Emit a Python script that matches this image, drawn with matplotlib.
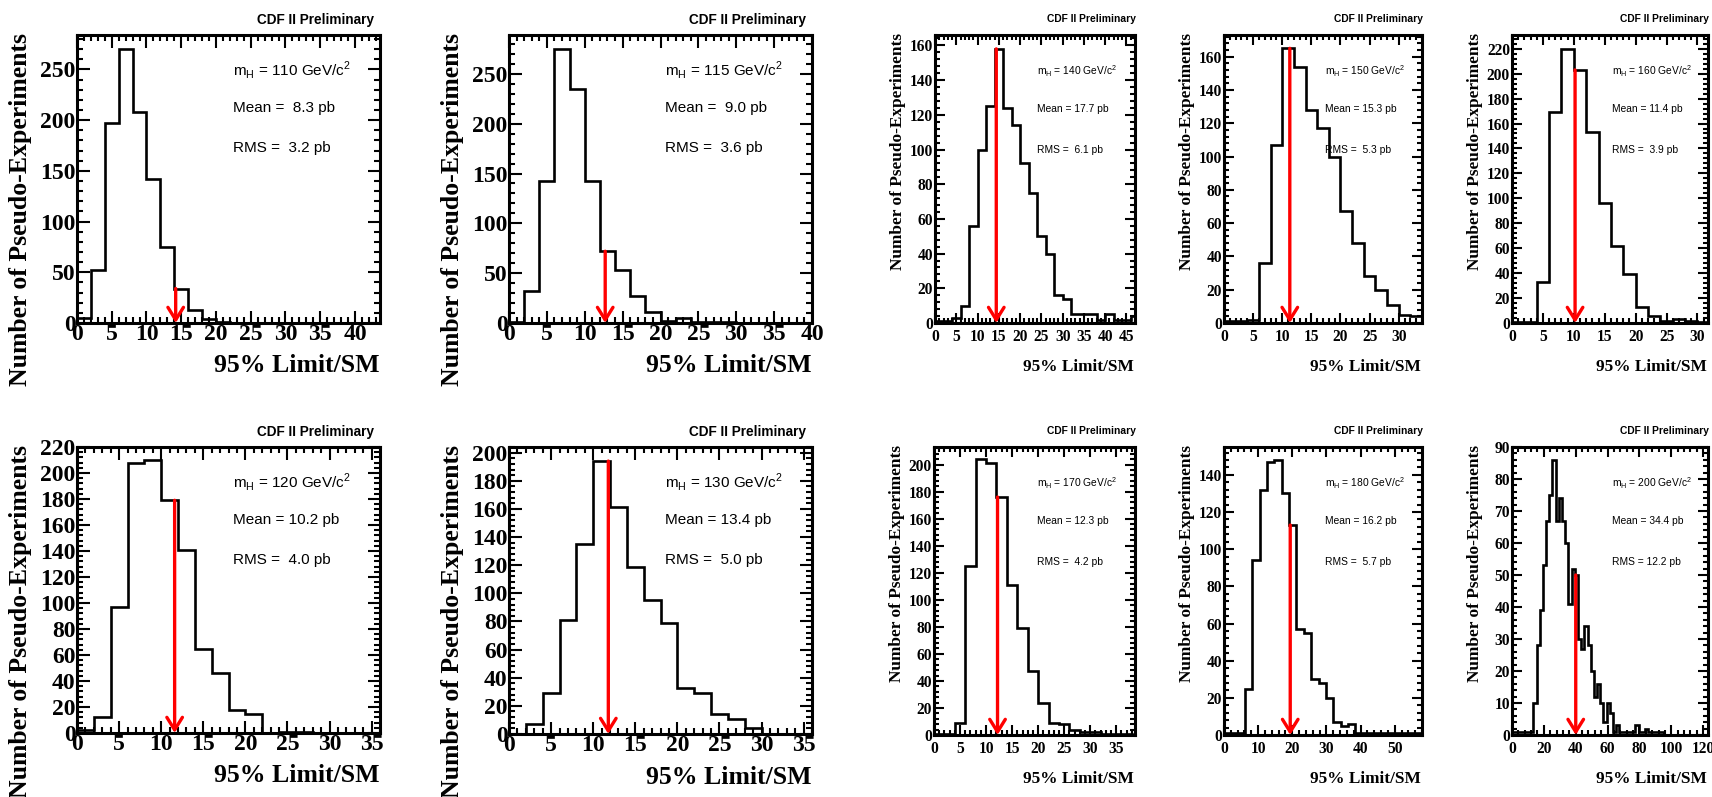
import numpy as np
import matplotlib
matplotlib.use('Agg')
import matplotlib.pyplot as plt
from matplotlib.ticker import MultipleLocator

# ------------------------------------------------------------------ data
masses = [110, 115, 140, 150, 160, 120, 130, 170, 180, 200]
mean_pb = [' 8.3', ' 9.0', '17.7', '15.3', '11.4', '10.2', '13.4', '12.3', '16.2', '34.4']
rms_pb = [' 3.2', ' 3.6', ' 6.1', ' 5.3', ' 3.9', ' 4.0', ' 5.0', ' 4.2', ' 5.7', '12.2']
observed = [14.2, 12.7, 14.4, 11.3, 10.2, 11.6, 11.8, 12.2, 19.4, 40.0]

counts_110 = [5, 52, 197, 270, 208, 142, 75, 34, 13, 4, 1, 0, 0, 0, 0, 0, 0, 0, 0, 0, 0, 0]
counts_115 = [1, 32, 142, 275, 235, 142, 72, 53, 27, 11, 2, 5, 1, 1, 1, 0, 0, 0, 0, 0]
counts_140 = [1, 1, 3, 10, 56, 100, 125, 158, 124, 114, 92, 75, 50, 40, 16, 14, 5, 5, 5, 2,
              5, 2, 2, 4]
counts_150 = [1, 1, 2, 36, 107, 165, 154, 128, 117, 100, 67, 48, 28, 20, 11, 5, 4]
counts_160 = [1, 1, 33, 169, 220, 203, 153, 96, 62, 39, 13, 6, 2, 3, 2, 1]
counts_120 = [2, 12, 97, 208, 210, 179, 141, 65, 46, 18, 15, 0, 1, 1, 0, 0, 0, 0]
counts_130 = [0, 7, 29, 81, 135, 194, 161, 119, 95, 79, 33, 29, 14, 11, 4, 0, 0, 0]
counts_170 = [1, 1, 9, 125, 204, 201, 176, 111, 79, 47, 24, 9, 8, 4, 2, 2, 1, 1, 1]
counts_180 = [1, 1, 1, 25, 94, 132, 147, 148, 130, 113, 57, 55, 30, 28, 20, 7, 5, 6,
              1, 1, 1, 1, 1, 1, 1, 1, 1, 1]
counts_200 = [1, 1, 1, 1, 1, 1, 1,
              10, 28, 39, 53, 67, 75, 86, 67, 74, 67, 60, 41, 52, 50, 30, 27, 34, 28,
              20, 12, 16, 10, 4, 10, 7, 1, 3, 1, 1, 1, 1, 1, 3, 1, 1, 2, 1, 1, 1, 1, 1]

all_counts = [counts_110, counts_115, counts_140, counts_150, counts_160,
              counts_120, counts_130, counts_170, counts_180, counts_200]
bin_start = [0, 0, 0, 0, 0, 0, 0, 0, -0.38, -0.6]
bin_width = [2, 2, 2, 2, 2, 2, 2, 2, 2.16, 2.0]
x_max = [43.6, 40, 47, 34, 31.7, 36, 36, 38.6, 58, 123]
y_max = [284, 289, 166, 173, 231, 220, 204, 213, 155, 90]
x_major = [5, 5, 5, 5, 5, 5, 5, 5, 10, 20]
y_major = [50, 50, 20, 20, 20, 20, 20, 20, 20, 10]

# ------------------------------------------------------------------ layout
W, H = 1712, 797
plt.rcParams['font.family'] = 'Liberation Serif'
plt.rcParams['font.weight'] = 'bold'

rects = [(77, 35, 380, 323), (509, 35, 812, 323), (935, 35, 1135, 323),
         (1224, 35, 1422, 323), (1512, 35, 1708, 323),
         (77, 447, 380, 733), (509, 447, 812, 734), (934, 447, 1135, 735),
         (1224, 447, 1422, 735), (1512, 447, 1708, 735)]
big_panels = (0, 1, 5, 6)

fig = plt.figure(figsize=(W / 100, H / 100), dpi=100)

for i in range(10):
    x0, y0, x1, y1 = rects[i]
    ax = fig.add_axes([x0 / W, 1 - y1 / H, (x1 - x0) / W, (y1 - y0) / H])
    big = i in big_panels
    counts = np.array(all_counts[i], dtype=float)
    edges = bin_start[i] + bin_width[i] * np.arange(len(counts) + 1)

    ax.stairs(counts, edges, color='black', linewidth=1.9, baseline=0)

    # observed-limit arrow: from the histogram height down to zero
    k = np.searchsorted(edges, observed[i]) - 1
    top = counts[k]
    ax.annotate('', xy=(observed[i], 0), xytext=(observed[i], top),
                arrowprops=dict(arrowstyle='->,head_length=0.45,head_width=0.28',
                                color='red', lw=2.4, shrinkA=0, shrinkB=0,
                                mutation_scale=20), annotation_clip=False)

    ax.set_xlim(0, x_max[i])
    ax.set_ylim(0, y_max[i])
    ax.xaxis.set_major_locator(MultipleLocator(x_major[i]))
    ax.xaxis.set_minor_locator(MultipleLocator(x_major[i] / 5))
    ax.yaxis.set_major_locator(MultipleLocator(y_major[i]))
    ax.yaxis.set_minor_locator(MultipleLocator(y_major[i] / 5))

    for sp in ax.spines.values():
        sp.set_linewidth(2.2)

    tick_fs = 17 if big else 11.2
    lab_fs = 18.5 if big else 12.4
    ax.tick_params(which='both', direction='in', top=True, right=True, width=1.5)
    ax.tick_params(which='major', length=9 if big else 7)
    ax.tick_params(which='minor', length=4.5 if big else 3.5)
    ax.tick_params(axis='x', labelsize=tick_fs, pad=1 if big else 4)
    ax.tick_params(axis='y', labelsize=tick_fs, pad=1 if big else 1.5)

    # axis titles (ROOT style, aligned to the ends of the axes)
    ax.annotate('95% Limit/SM', xy=(1, 0), xycoords='axes fraction',
                xytext=(-1, -43 if big else -44), textcoords='offset pixels',
                ha='right', va='center', fontsize=lab_fs, fontweight='bold',
                family='Liberation Serif', annotation_clip=False)
    ax.annotate('Number of Pseudo-Experiments', xy=(0, 1), xycoords='axes fraction',
                xytext=(-56 if big else -37, 2), textcoords='offset pixels',
                ha='center', va='top', rotation=90, fontsize=lab_fs,
                fontweight='bold', family='Liberation Serif', annotation_clip=False)

    # CDF II Preliminary
    ax.annotate('CDF II Preliminary', xy=(1, 1), xycoords='axes fraction',
                xytext=(-6 if big else 1, 15 if big else 16), textcoords='offset pixels',
                ha='right', va='center', fontsize=9.8 if big else 7.4,
                fontweight='bold', family='Liberation Sans', annotation_clip=False)

    # statistics box
    txt_fs = 11 if big else 7.4
    fx = 0.515 if big else 0.512
    offs = (35, 73, 113) if big else (36, 74, 115)
    lines = [r'm$_{\mathregular{H}}$ = %d GeV/c$^{\mathregular{2}}$' % masses[i],
             'Mean = %s pb' % mean_pb[i],
             'RMS = %s pb' % rms_pb[i]]
    for line, dy in zip(lines, offs):
        ax.annotate(line, xy=(fx, 1), xycoords='axes fraction',
                    xytext=(0, -dy), textcoords='offset pixels',
                    ha='left', va='center', fontsize=txt_fs, fontweight='normal',
                    family='Liberation Sans')

fig.savefig('out.png', dpi=100)
